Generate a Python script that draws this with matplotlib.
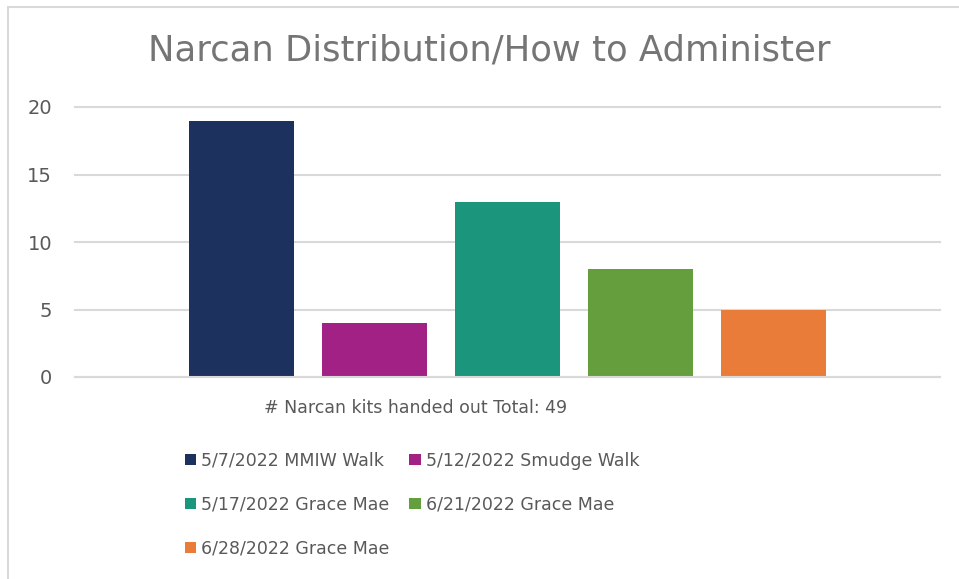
import matplotlib.pyplot as plt
from matplotlib.patches import Rectangle, Patch

plt.rcParams['font.family'] = ['DejaVu Sans']

# data
events = ['5/7/2022 MMIW Walk', '5/12/2022 Smudge Walk', '5/17/2022 Grace Mae',
          '6/21/2022 Grace Mae', '6/28/2022 Grace Mae']
kits = [19, 4, 13, 8, 5]
colors = ['#1C315E', '#A12185', '#1B967D', '#649E3D', '#E97C38']
title = 'Narcan Distribution/How to Administer'
xlabel = '# Narcan kits handed out Total: 49'
yticks = [0, 5, 10, 15, 20]

W, H = 959, 579
fig = plt.figure(figsize=(W / 100, H / 100), dpi=100)
fig.patch.set_facecolor('white')

# chart border (cropped on the right and bottom)
fig.add_artist(Rectangle((8 / W, -0.1), 1.2, 1 - 7 / H + 0.1, transform=fig.transFigure,
                         fill=False, edgecolor='#D9D9D9', linewidth=1.5))

ax = fig.add_axes([75 / W, 1 - 377 / H, (940 - 75) / W, (377 - 107) / H])

bars = ax.bar(range(len(kits)), kits, width=0.79, color=colors, zorder=3)

ax.set_xlim(-1.252, 5.252)
ax.set_ylim(0, 20)
ax.set_yticks(yticks)
ax.set_xticks([])
ax.yaxis.grid(True, color='#D9D9D9', linewidth=1.5, zorder=0)
for gl in ax.get_ygridlines():
    gl.set_clip_on(False)
for s in ['top', 'right', 'left']:
    ax.spines[s].set_visible(False)
ax.spines['bottom'].set_color('#D9D9D9')
ax.spines['bottom'].set_linewidth(1.5)
ax.spines['bottom'].set_zorder(4)
ax.tick_params(axis='y', length=0, labelsize=14, labelcolor='#595959', pad=16.5)

fig.text(489 / W, 1 - 50 / H, title, ha='center', va='center', fontsize=25.5, color='#757575')
fig.text(416 / W, 1 - 408 / H, xlabel, ha='center', va='center', fontsize=12.5, color='#595959')

handles = [Patch(facecolor=c) for c in colors]
order = [0, 2, 4, 1, 3]
fig.legend([handles[i] for i in order], [events[i] for i in order], ncol=2,
           loc='upper left', bbox_to_anchor=(176 / W, 1 - 443 / H), frameon=False,
           fontsize=12.5, labelcolor='#595959', handlelength=0.65, handleheight=0.65,
           handletextpad=0.3, columnspacing=1.14, labelspacing=1.5, borderpad=0)

fig.savefig('out.png', dpi=100)
